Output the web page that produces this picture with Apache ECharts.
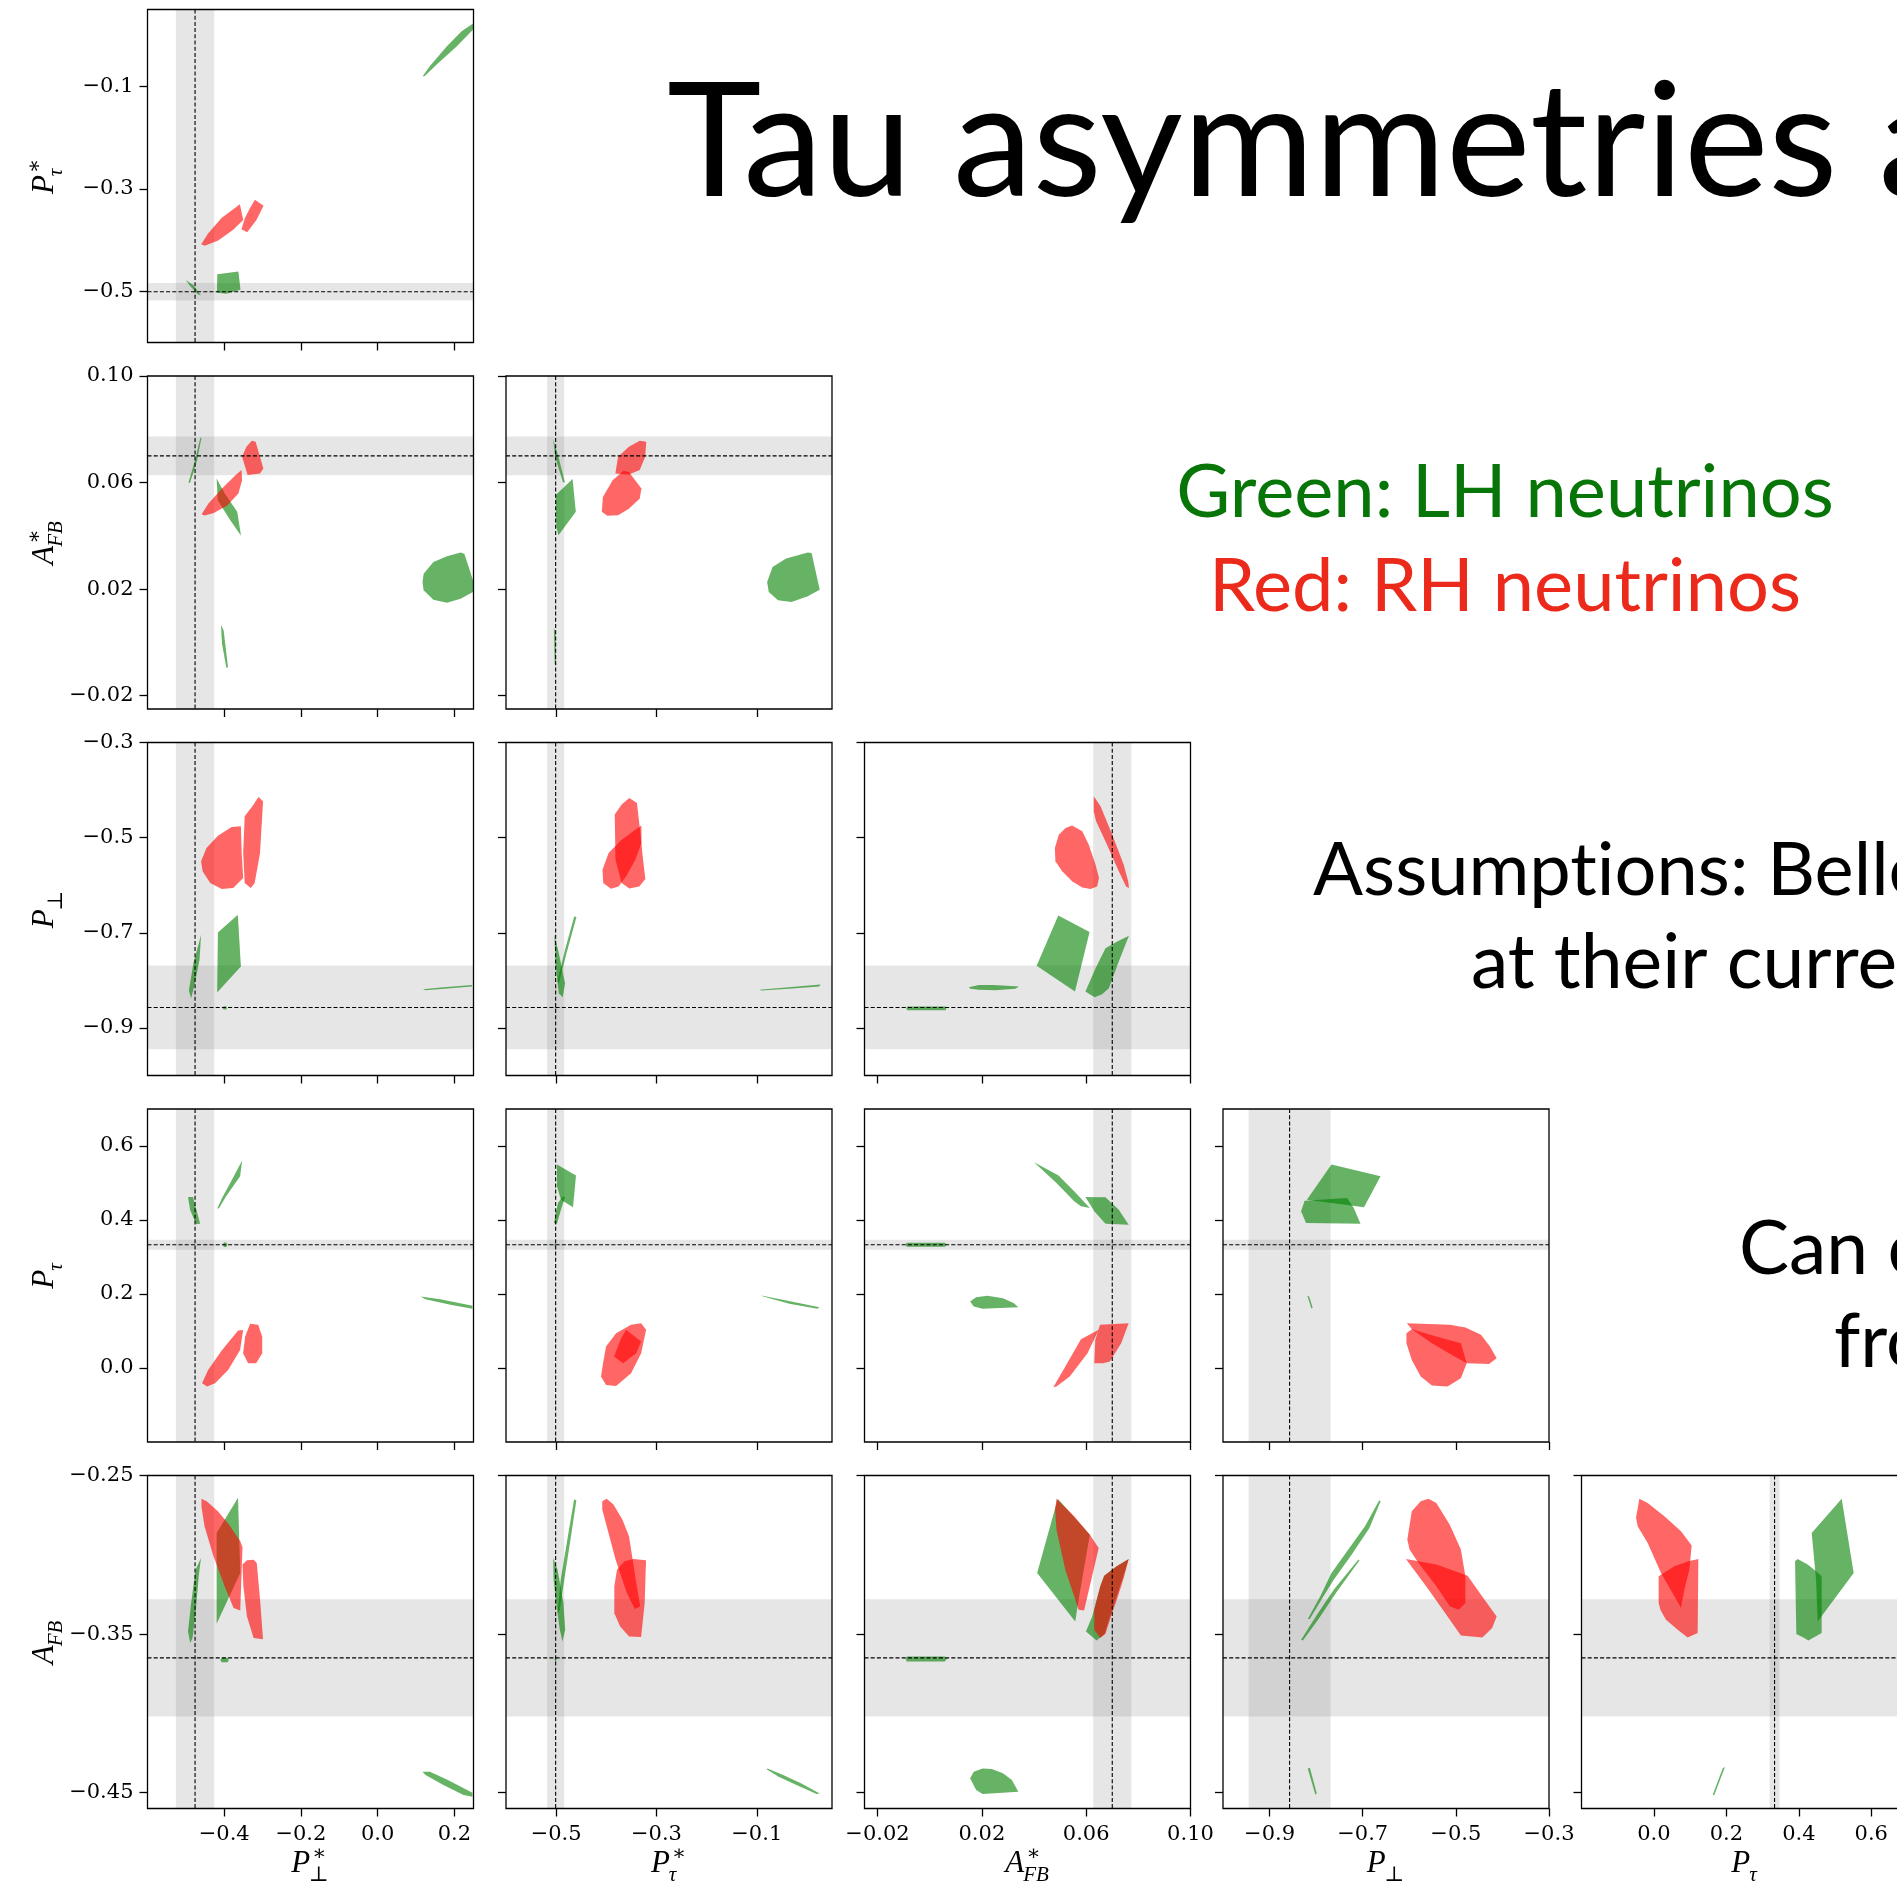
<!DOCTYPE html>
<html>
<head>
<meta charset="utf-8">
<title>Tau asymmetries</title>
<script src="https://cdn.jsdelivr.net/npm/echarts@6/dist/echarts.min.js"></script>
<style>
html,body{margin:0;padding:0;background:#ffffff;}
#chart{width:1897px;height:1884px;}
</style>
</head>
<body>
<div id="chart"></div>
<script>
// ---------------- DATA ----------------
// variables: 0 P*_perp, 1 P*_tau, 2 A*_FB, 3 P_perp, 4 P_tau, 5 A_FB
const VAR_MIN = [-0.6, -0.6, -0.025, -1.0, -0.2, -0.46];
const VAR_MAX = [0.25, 0.05, 0.10, -0.3, 0.7, -0.25];
const VAR_TICKS = [
  [-0.4, -0.2, 0.0, 0.2],
  [-0.5, -0.3, -0.1],
  [-0.02, 0.02, 0.06, 0.10],
  [-0.9, -0.7, -0.5, -0.3],
  [0.0, 0.2, 0.4, 0.6],
  [-0.45, -0.35, -0.25]
];
const VAR_DECIMALS = [1, 1, 2, 1, 1, 2];
const AXIS_TITLES = [['P', '\u2217', '\u22A5'], ['P', '\u2217', '\u03C4'], ['A', '\u2217', 'FB'], ['P', '', '\u22A5'], ['P', '', '\u03C4'], ['A', '', 'FB']];
// measured values (dashed lines) and their uncertainties (grey bands)
const MEAS_CENTER = [-0.476, -0.501, 0.0700, -0.857, 0.333, -0.365];
const MEAS_ERR = [0.050, 0.017, 0.0073, 0.088, 0.0135, 0.037];

const SLIDE_TITLE = 'Tau asymmetries at';
const LEGEND_LH = 'Green: LH neutrinos';
const LEGEND_RH = 'Red: RH neutrinos';
const NOTE_LINES = ['Assumpt\u200Cions: Belle', 'at their current', 'Can c', 'from'];

// allowed regions, [x, y] vertices in data units; LH = green, RH = red
const LH_11 = [
  [[0.117,-0.081],[0.136,-0.061],[0.180,-0.022],[0.219,0.0076],[0.249,0.0226],[0.249,0.0109],[0.206,-0.022],[0.154,-0.0575],[0.123,-0.080]],
  [[-0.418,-0.467],[-0.363,-0.4616],[-0.3575,-0.497],[-0.394,-0.505],[-0.419,-0.503]],
  [[-0.500,-0.478],[-0.481,-0.4876],[-0.461,-0.508],[-0.468,-0.5065],[-0.4896,-0.489]]
];
const RH_11 = [
  [[-0.460,-0.408],[-0.442,-0.387],[-0.407,-0.357],[-0.359,-0.330],[-0.3505,-0.361],[-0.3766,-0.380],[-0.4157,-0.401],[-0.4505,-0.411]],
  [[-0.320,-0.3215],[-0.2975,-0.333],[-0.316,-0.361],[-0.340,-0.385],[-0.355,-0.379],[-0.346,-0.357],[-0.333,-0.338]]
];
const LH_21 = [
  [[-0.4933,0.0599],[-0.476,0.0684],[-0.462,0.0769],[-0.4594,0.0767],[-0.4707,0.0684],[-0.489,0.0599]],
  [[-0.4198,0.0615],[-0.3986,0.0559],[-0.366,0.049],[-0.3562,0.040],[-0.3845,0.0459],[-0.417,0.0534]],
  [[0.120,0.0258],[0.1455,0.0302],[0.1808,0.0323],[0.2162,0.0337],[0.2261,0.0333],[0.2487,0.0233],[0.2487,0.0189],[0.2162,0.0164],[0.1808,0.0149],[0.1455,0.016],[0.120,0.0196],[0.1172,0.0227]],
  [[-0.4085,0.0066],[-0.4015,0.0045],[-0.390,-0.0093],[-0.3944,-0.0095],[-0.4057,-0.0005]]
];
const RH_21 = [
  [[-0.342,0.0734],[-0.328,0.0757],[-0.318,0.0753],[-0.298,0.0653],[-0.3067,0.0634],[-0.339,0.0628],[-0.3534,0.0697]],
  [[-0.459,0.0481],[-0.441,0.0521],[-0.4057,0.0578],[-0.370,0.0628],[-0.3548,0.0647],[-0.3534,0.0609],[-0.363,0.0559],[-0.3915,0.0515],[-0.427,0.0486],[-0.451,0.0476]]
];
const LH_22 = [
  [[-0.506,0.0762],[-0.4954,0.0697],[-0.4824,0.0599],[-0.4867,0.0602],[-0.5019,0.0697]],
  [[-0.5008,0.0553],[-0.4673,0.0613],[-0.4608,0.049],[-0.4954,0.0402],[-0.4997,0.0434]],
  [[-0.0793,0.0227],[-0.0685,0.0283],[-0.0415,0.0315],[0.0017,0.0337],[0.0093,0.0336],[0.0255,0.0198],[0.0017,0.0173],[-0.0307,0.0152],[-0.0577,0.0158],[-0.0761,0.0189]],
  [[-0.5045,0.0051],[-0.5015,0.0045],[-0.500,-0.0083],[-0.503,-0.008]]
];
const RH_22 = [
  [[-0.3819,0.0634],[-0.3765,0.0697],[-0.3549,0.0734],[-0.3333,0.0757],[-0.3203,0.0753],[-0.3225,0.0697],[-0.3333,0.0647],[-0.3549,0.063]],
  [[-0.4089,0.049],[-0.4068,0.0546],[-0.3873,0.0609],[-0.3657,0.0644],[-0.3549,0.064],[-0.330,0.0578],[-0.3333,0.054],[-0.3549,0.0502],[-0.3765,0.0477],[-0.3981,0.0475]]
];
const LH_31 = [
  [[-0.4922,-0.8214],[-0.4803,-0.7639],[-0.4603,-0.7042],[-0.4643,-0.7568],[-0.4783,-0.813],[-0.4863,-0.8375]],
  [[-0.4164,-0.6993],[-0.3645,-0.6621],[-0.3565,-0.7709],[-0.4184,-0.8256]],
  [[-0.4044,-0.8579],[-0.4014,-0.8545],[-0.3954,-0.8545],[-0.3924,-0.8579],[-0.3954,-0.8613],[-0.4014,-0.8613]],
  [[0.1184,-0.8186],[0.1723,-0.8144],[0.2461,-0.8095],[0.2461,-0.813],[0.1823,-0.8172],[0.1244,-0.8207]]
];
const RH_31 = [
  [[-0.4603,-0.5498],[-0.4463,-0.5218],[-0.4164,-0.4958],[-0.3805,-0.4775],[-0.3565,-0.4761],[-0.3545,-0.5323],[-0.3505,-0.5849],[-0.3765,-0.606],[-0.4064,-0.6081],[-0.4364,-0.5954],[-0.4563,-0.5709]],
  [[-0.3466,-0.4551],[-0.3266,-0.434],[-0.3106,-0.4144],[-0.2987,-0.4235],[-0.3066,-0.5323],[-0.3206,-0.5954],[-0.3306,-0.606],[-0.3466,-0.5954],[-0.3505,-0.5323]]
];
const LH_32 = [
  [[-0.5037,-0.7042],[-0.4946,-0.7428],[-0.4823,-0.806],[-0.4869,-0.8354],[-0.4946,-0.827],[-0.5007,-0.7709]],
  [[-0.464,-0.6656],[-0.4595,-0.667],[-0.4793,-0.7428],[-0.4946,-0.806],[-0.4976,-0.8025],[-0.4823,-0.7358]],
  [[-0.503,-0.8579],[-0.5007,-0.8555],[-0.4984,-0.8579],[-0.5007,-0.8603]],
  [[-0.0947,-0.82],[-0.0367,-0.8144],[0.0274,-0.8088],[0.0243,-0.813],[-0.0291,-0.8172],[-0.0902,-0.8214]]
];
const RH_32 = [
  [[-0.3832,-0.4516],[-0.3694,-0.4305],[-0.3542,-0.4165],[-0.3389,-0.427],[-0.3328,-0.4832],[-0.3267,-0.5463],[-0.3221,-0.587],[-0.3343,-0.6025],[-0.3542,-0.6067],[-0.3694,-0.5954],[-0.3817,-0.5463]],
  [[-0.4076,-0.5674],[-0.3954,-0.5323],[-0.3694,-0.5042],[-0.3421,-0.4832],[-0.330,-0.4747],[-0.330,-0.5112],[-0.3421,-0.5463],[-0.3604,-0.5814],[-0.3756,-0.6025],[-0.3909,-0.6074],[-0.4061,-0.5954]]
];
const LH_33 = [
  [[0.0493,-0.6635],[0.0613,-0.6986],[0.0557,-0.8235],[0.041,-0.7695]],
  [[0.0597,-0.8235],[0.0636,-0.7744],[0.0674,-0.7323],[0.0719,-0.7182],[0.0764,-0.7063],[0.0725,-0.7604],[0.0687,-0.8165],[0.0661,-0.8291],[0.0632,-0.8354]],
  [[0.015,-0.8144],[0.0188,-0.8095],[0.0246,-0.8095],[0.0342,-0.813],[0.0329,-0.8179],[0.0252,-0.8207],[0.0188,-0.82],[0.0156,-0.8179]],
  [[-0.0086,-0.8551],[0.0061,-0.8551],[0.0064,-0.8586],[0.0061,-0.8628],[-0.0086,-0.8628],[-0.009,-0.8586]]
];
const RH_33 = [
  [[0.048,-0.5218],[0.0495,-0.4937],[0.0521,-0.4796],[0.0546,-0.4747],[0.0585,-0.4867],[0.061,-0.5147],[0.0636,-0.5568],[0.0649,-0.5849],[0.0642,-0.6025],[0.0617,-0.6081],[0.0585,-0.6046],[0.0546,-0.5919],[0.0508,-0.5709],[0.0482,-0.5498]],
  [[0.0629,-0.413],[0.0655,-0.434],[0.070,-0.4937],[0.0744,-0.5568],[0.0761,-0.5919],[0.0764,-0.606],[0.0753,-0.6025],[0.0725,-0.5709],[0.068,-0.5147],[0.0638,-0.4656],[0.0629,-0.4446]]
];
const LH_41 = [
  [[-0.4943,0.4622],[-0.4812,0.4622],[-0.4629,0.390],[-0.4734,0.3882],[-0.489,0.428]],
  [[-0.4185,0.4306],[-0.4055,0.4595],[-0.3794,0.5092],[-0.3533,0.5606],[-0.3585,0.5182],[-0.395,0.464],[-0.4133,0.4324]],
  [[-0.4036,0.3332],[-0.4006,0.3392],[-0.3946,0.3392],[-0.3916,0.3332],[-0.3946,0.3272],[-0.4006,0.3272]],
  [[0.1115,0.1933],[0.1637,0.1861],[0.2473,0.1681],[0.2473,0.16],[0.1898,0.1708],[0.1245,0.1861]]
];
const RH_41 = [
  [[-0.4577,-0.0413],[-0.442,-0.0052],[-0.4055,0.0489],[-0.3637,0.1012],[-0.3507,0.103],[-0.3585,0.0489],[-0.3898,-0.0052],[-0.4238,-0.0413],[-0.4446,-0.0503]],
  [[-0.3454,0.085],[-0.3324,0.1193],[-0.3115,0.1166],[-0.301,0.085],[-0.301,0.0399],[-0.3167,0.0128],[-0.3376,0.0128],[-0.3507,0.0399]]
];
const LH_42 = [
  [[-0.4984,0.5498],[-0.4604,0.52],[-0.4664,0.4343],[-0.4904,0.455],[-0.4984,0.4911]],
  [[-0.5044,0.3918],[-0.4964,0.4459],[-0.4864,0.464],[-0.4824,0.4622],[-0.4904,0.428],[-0.4984,0.39]],
  [[-0.504,0.333],[-0.502,0.338],[-0.500,0.333],[-0.502,0.328]],
  [[-0.091,0.196],[-0.0311,0.1798],[0.0248,0.1645],[0.0208,0.16],[-0.0351,0.1735],[-0.087,0.1933]]
];
const RH_42 = [
  [[-0.4065,0.0128],[-0.4005,0.058],[-0.3805,0.0941],[-0.3506,0.1166],[-0.3306,0.1211],[-0.3206,0.1031],[-0.3306,0.0399],[-0.3506,-0.0143],[-0.3805,-0.0486],[-0.4005,-0.0459],[-0.4105,-0.0233]],
  [[-0.3845,0.031],[-0.3705,0.0806],[-0.3605,0.1031],[-0.3306,0.0716],[-0.3405,0.0399],[-0.3665,0.0128]]
];
const LH_43 = [
  [[0.040,0.5561],[0.0494,0.52],[0.0554,0.4776],[0.0614,0.4325],[0.058,0.437],[0.0554,0.4505],[0.0486,0.5]],
  [[0.0597,0.4622],[0.0674,0.4613],[0.0725,0.428],[0.0763,0.3873],[0.0674,0.39],[0.0631,0.4234]],
  [[-0.0088,0.3386],[0.0058,0.3386],[0.0066,0.3332],[0.0058,0.3278],[-0.0088,0.3278],[-0.0093,0.3332]],
  [[0.0155,0.1798],[0.0178,0.1915],[0.0221,0.1951],[0.0281,0.1888],[0.0323,0.1753],[0.034,0.1645],[0.0246,0.1618],[0.0203,0.16],[0.0169,0.1663]]
];
const RH_43 = [
  [[0.0474,-0.0521],[0.052,0.0038],[0.058,0.0778],[0.0648,0.1031],[0.0605,0.0399],[0.0537,-0.0233],[0.0486,-0.0503]],
  [[0.0653,0.1166],[0.0763,0.1211],[0.0734,0.067],[0.0691,0.0174],[0.0665,0.0128],[0.0631,0.0128],[0.0635,0.0761]]
];
const LH_44 = [
  [[-0.8199,0.455],[-0.7671,0.5497],[-0.6617,0.5182],[-0.6972,0.4343]],
  [[-0.8247,0.4523],[-0.7336,0.4595],[-0.7192,0.4325],[-0.7048,0.39],[-0.8218,0.3918],[-0.8323,0.4234]],
  [[-0.8189,0.1951],[-0.8151,0.1933],[-0.8074,0.1627],[-0.8103,0.1609]]
];
const RH_44 = [
  [[-0.6061,0.0941],[-0.5946,0.1049],[-0.5419,0.0851],[-0.4892,0.067],[-0.4767,0.0129],[-0.4892,-0.0277],[-0.5179,-0.0503],[-0.5514,-0.0476],[-0.5754,-0.0233],[-0.5946,0.0219],[-0.6061,0.067]],
  [[-0.6052,0.1211],[-0.5131,0.1166],[-0.4795,0.1094],[-0.446,0.0896],[-0.4268,0.058],[-0.4124,0.0264],[-0.4288,0.0111],[-0.4767,0.0129],[-0.5083,0.0354],[-0.5514,0.067],[-0.5946,0.1049]]
];
const LH_51 = [
  [[-0.364,-0.2641],[-0.3582,-0.3115],[-0.4198,-0.3435],[-0.4198,-0.2862]],
  [[-0.4944,-0.3483],[-0.4862,-0.3304],[-0.4746,-0.3094],[-0.4606,-0.302],[-0.4664,-0.3136],[-0.4746,-0.3368],[-0.4827,-0.3525],[-0.4885,-0.3557]],
  [[-0.4099,-0.3664],[-0.4069,-0.365],[-0.3909,-0.365],[-0.3879,-0.3664],[-0.3909,-0.3678],[-0.4069,-0.3678]],
  [[0.1168,-0.4368],[0.1366,-0.4368],[0.1832,-0.442],[0.2472,-0.45],[0.2472,-0.4526],[0.2239,-0.4515],[0.1715,-0.4452],[0.1249,-0.4389]]
];
const RH_51 = [
  [[-0.4594,-0.2647],[-0.4455,-0.2662],[-0.4164,-0.2725],[-0.3873,-0.281],[-0.3582,-0.2915],[-0.3523,-0.2951],[-0.3582,-0.3351],[-0.3756,-0.3336],[-0.3989,-0.3199],[-0.428,-0.301],[-0.4513,-0.282],[-0.4594,-0.2694]],
  [[-0.3523,-0.3062],[-0.3407,-0.3035],[-0.3232,-0.3031],[-0.3151,-0.3052],[-0.3058,-0.3304],[-0.2988,-0.3532],[-0.3232,-0.3525],[-0.3407,-0.3389],[-0.35,-0.3199]]
];
const LH_52 = [
  [[-0.4642,-0.2652],[-0.4597,-0.2656],[-0.4704,-0.2883],[-0.4838,-0.3157],[-0.4927,-0.3346],[-0.4971,-0.3368],[-0.4909,-0.3157],[-0.4766,-0.2883]],
  [[-0.506,-0.302],[-0.4971,-0.3094],[-0.4855,-0.3304],[-0.482,-0.3473],[-0.4873,-0.3547],[-0.4927,-0.3473],[-0.4998,-0.3304],[-0.5051,-0.3157]],
  [[-0.5035,-0.3662],[-0.5013,-0.3650],[-0.4991,-0.3662],[-0.5013,-0.3674]],
  [[-0.0787,-0.4347],[-0.0475,-0.4389],[-0.0119,-0.4441],[0.0255,-0.4505],[0.0193,-0.4509],[-0.0208,-0.4452],[-0.0564,-0.4399],[-0.0805,-0.4353]]
];
const RH_52 = [
  [[-0.4081,-0.2662],[-0.3992,-0.2647],[-0.3858,-0.2683],[-0.368,-0.2778],[-0.3547,-0.2883],[-0.3413,-0.3157],[-0.3324,-0.3325],[-0.3431,-0.3342],[-0.3591,-0.3241],[-0.3814,-0.3031],[-0.3992,-0.282],[-0.4081,-0.2715]],
  [[-0.3787,-0.3094],[-0.3636,-0.3041],[-0.3458,-0.3026],[-0.3208,-0.3035],[-0.3235,-0.3304],[-0.3306,-0.3519],[-0.3546,-0.3515],[-0.3724,-0.3452],[-0.384,-0.3368],[-0.384,-0.3199]]
];
const LH_53 = [
  [[0.0491,-0.2647],[0.0614,-0.2873],[0.0571,-0.3283],[0.0558,-0.342],[0.0412,-0.3115]],
  [[0.0599,-0.3483],[0.0623,-0.3389],[0.0654,-0.3199],[0.0669,-0.3132],[0.0717,-0.3073],[0.0763,-0.3026],[0.0742,-0.3136],[0.0717,-0.3262],[0.0691,-0.3389],[0.0671,-0.3498],[0.0640,-0.354]],
  [[-0.0088,-0.3641],[0.0058,-0.3641],[0.0066,-0.3656],[0.0058,-0.3673],[-0.0088,-0.3673],[-0.0093,-0.3656]],
  [[0.0155,-0.441],[0.0169,-0.4368],[0.0203,-0.4347],[0.0238,-0.4351],[0.0281,-0.4378],[0.0315,-0.442],[0.034,-0.4494],[0.0203,-0.4509],[0.0178,-0.4484]]
];
const RH_53 = [
  [[0.0486,-0.2647],[0.0554,-0.2757],[0.0614,-0.2873],[0.0648,-0.2957],[0.0592,-0.3351],[0.0571,-0.3346],[0.052,-0.3094],[0.0486,-0.2841],[0.0481,-0.2715]],
  [[0.0631,-0.3346],[0.0654,-0.3199],[0.0669,-0.3132],[0.0717,-0.3073],[0.0763,-0.3026],[0.0746,-0.3136],[0.0722,-0.3262],[0.0695,-0.3389],[0.0674,-0.3498],[0.0654,-0.3525],[0.0631,-0.3473]]
];
const LH_54 = [
  [[-0.818,-0.3405],[-0.7911,-0.3262],[-0.7671,-0.3115],[-0.7336,-0.2978],[-0.6952,-0.282],[-0.6645,-0.2656],[-0.6616,-0.2662],[-0.6856,-0.2831],[-0.7239,-0.2999],[-0.7623,-0.3157],[-0.7911,-0.3294],[-0.8136,-0.3405]],
  [[-0.8323,-0.3536],[-0.8007,-0.3389],[-0.7623,-0.322],[-0.7096,-0.3031],[-0.7067,-0.3035],[-0.7575,-0.3241],[-0.7959,-0.341],[-0.8285,-0.354]],
  [[-0.818,-0.4347],[-0.8136,-0.4343],[-0.7986,-0.4505],[-0.8018,-0.4511]]
];
const RH_54 = [
  [[-0.6042,-0.2904],[-0.5946,-0.2725],[-0.5754,-0.2662],[-0.5591,-0.2647],[-0.5419,-0.2673],[-0.5131,-0.281],[-0.4892,-0.2967],[-0.4796,-0.3136],[-0.4796,-0.3304],[-0.4939,-0.3346],[-0.5131,-0.3325],[-0.5419,-0.3199],[-0.5802,-0.3052],[-0.5994,-0.2967]],
  [[-0.6071,-0.3026],[-0.5419,-0.3062],[-0.4748,-0.3132],[-0.446,-0.3252],[-0.4124,-0.3389],[-0.422,-0.3462],[-0.4431,-0.3521],[-0.4892,-0.3509],[-0.5227,-0.3368],[-0.5611,-0.321]]
];
const LH_55 = [
  [[0.4355,-0.2862],[0.5183,-0.2647],[0.5514,-0.3115],[0.4521,-0.342],[0.4475,-0.3157]],
  [[0.3895,-0.3041],[0.3968,-0.3026],[0.4244,-0.3062],[0.4475,-0.3104],[0.4631,-0.3136],[0.4631,-0.3494],[0.4263,-0.354],[0.4152,-0.3525],[0.3931,-0.35]],
  [[0.1621,-0.4515],[0.1897,-0.4347],[0.1962,-0.4336],[0.1667,-0.4515]]
];
const RH_55 = [
  [[-0.0403,-0.2647],[-0.0173,-0.2673],[0.0287,-0.2757],[0.0747,-0.2852],[0.1042,-0.2942],[0.0977,-0.3094],[0.0839,-0.322],[0.0747,-0.3336],[0.0563,-0.3262],[0.0195,-0.3115],[-0.0173,-0.2925],[-0.0449,-0.282],[-0.0495,-0.2767]],
  [[0.013,-0.3136],[0.0563,-0.3073],[0.095,-0.3041],[0.1226,-0.3026],[0.1207,-0.3494],[0.0931,-0.3521],[0.0655,-0.3473],[0.0333,-0.341],[0.0177,-0.3347],[0.013,-0.3304]]
];

// ---------------- LAYOUT / STYLE ----------------
const REGIONS = {
  '11': [LH_11, RH_11],
  '21': [LH_21, RH_21], '22': [LH_22, RH_22],
  '31': [LH_31, RH_31], '32': [LH_32, RH_32], '33': [LH_33, RH_33],
  '41': [LH_41, RH_41], '42': [LH_42, RH_42], '43': [LH_43, RH_43], '44': [LH_44, RH_44],
  '51': [LH_51, RH_51], '52': [LH_52, RH_52], '53': [LH_53, RH_53], '54': [LH_54, RH_54], '55': [LH_55, RH_55]
};
const GL = 147.5, GP = 358.5, GT = 9.5, GRP = 366.5, GW = 326, GH = 333;
const LH_FILL = 'rgba(0,128,0,0.6)';
const RH_FILL = 'rgba(255,0,0,0.6)';
const BAND_FILL = 'rgba(128,128,128,0.2)';
const SERIF = '"Liberation Serif","DejaVu Serif",serif';
const TICK_FONT = '"DejaVu Serif","Liberation Serif",serif';
const SANS = 'Lato, "Open Sans", sans-serif';

function fmt(v, d) {
  const s = Math.abs(v).toFixed(d);
  return (v < -1e-9 ? '\u2212' : '') + s;
}

function makeAxis(v, dim, showLabel, gi) {
  return {
    type: 'value', gridIndex: gi, min: VAR_MIN[v], max: VAR_MAX[v],
    position: dim === 'x' ? 'bottom' : 'left',
    axisLine: { show: false, onZero: false },
    axisTick: { show: true, inside: false, length: 8, customValues: VAR_TICKS[v], lineStyle: { color: '#000', width: 1.3 } },
    axisLabel: {
      show: showLabel, customValues: VAR_TICKS[v],
      formatter: function (val) { return fmt(val, VAR_DECIMALS[v]); },
      fontFamily: TICK_FONT, fontSize: 21, color: '#000', margin: dim === 'x' ? 16 : 14
    },
    splitLine: { show: false }, splitArea: { show: false }
  };
}

const grids = [], xAxes = [], yAxes = [], series = [];
let gi = 0;
for (let r = 0; r < 5; r++) {
  for (let c = 0; c <= r; c++) {
    const xv = c, yv = r + 1;
    const key = '' + (r + 1) + (c + 1);
    const mid = [(VAR_MIN[xv] + VAR_MAX[xv]) / 2, (VAR_MIN[yv] + VAR_MAX[yv]) / 2];
    grids.push({ left: GL + c * GP, top: GT + r * GRP, width: GW, height: GH, show: false, containLabel: false, outerBoundsMode: 'none' });
    xAxes.push(makeAxis(xv, 'x', r === 4, gi));
    yAxes.push(makeAxis(yv, 'y', c === 0, gi));
    // grey measurement bands
    series.push({
      type: 'custom', xAxisIndex: gi, yAxisIndex: gi, z: 1, silent: true, clip: true, data: [mid],
      renderItem: function (params, api) {
        const cs = params.coordSys;
        const xa = api.coord([MEAS_CENTER[xv] - MEAS_ERR[xv], mid[1]])[0];
        const xb = api.coord([MEAS_CENTER[xv] + MEAS_ERR[xv], mid[1]])[0];
        const ya = api.coord([mid[0], MEAS_CENTER[yv] + MEAS_ERR[yv]])[1];
        const yb = api.coord([mid[0], MEAS_CENTER[yv] - MEAS_ERR[yv]])[1];
        return { type: 'group', children: [
          { type: 'rect', shape: { x: xa, y: cs.y, width: xb - xa, height: cs.height }, style: { fill: BAND_FILL } },
          { type: 'rect', shape: { x: cs.x, y: ya, width: cs.width, height: yb - ya }, style: { fill: BAND_FILL } }
        ] };
      }
    });
    // regions
    [[REGIONS[key][0], LH_FILL, 2], [REGIONS[key][1], RH_FILL, 3]].forEach(function (item) {
      const polys = item[0], fill = item[1];
      series.push({
        type: 'custom', xAxisIndex: gi, yAxisIndex: gi, z: item[2], silent: true, clip: true,
        data: polys.map(function (p) { return p[0]; }),
        renderItem: function (params, api) {
          const poly = polys[params.dataIndex];
          return { type: 'polygon', shape: { points: poly.map(function (pt) { return api.coord(pt); }) }, style: { fill: fill, stroke: 'none' } };
        }
      });
    });
    // dashed measured lines + frame
    series.push({
      type: 'custom', xAxisIndex: gi, yAxisIndex: gi, z: 5, silent: true, clip: false, data: [mid],
      renderItem: function (params, api) {
        const cs = params.coordSys;
        const lx = api.coord([MEAS_CENTER[xv], mid[1]])[0];
        const ly = api.coord([mid[0], MEAS_CENTER[yv]])[1];
        const dash = { stroke: '#000', lineWidth: 1.1, lineDash: [4, 2.2], fill: 'none' };
        return { type: 'group', children: [
          { type: 'line', shape: { x1: lx, y1: cs.y, x2: lx, y2: cs.y + cs.height }, style: dash },
          { type: 'line', shape: { x1: cs.x, y1: ly, x2: cs.x + cs.width, y2: ly }, style: dash },
          { type: 'rect', shape: { x: cs.x, y: cs.y, width: cs.width, height: cs.height }, style: { fill: 'none', stroke: '#000', lineWidth: 1.3 } }
        ] };
      }
    });
    gi++;
  }
}

// ---------------- TEXT GRAPHICS ----------------
const _ctx = document.createElement('canvas').getContext('2d');
function textWidth(t, font) { _ctx.font = font; return _ctx.measureText(t).width; }

function mathLabel(def, gx, gy, vertical) {
  const base = def[0], sup = def[1], sub = def[2];
  const BS = 31, SS = 21;
  const fBase = 'italic ' + BS + 'px ' + SERIF;
  const fSup = SS + 'px ' + SERIF;
  const fSub = (sub === '\u22A5' ? '' : 'italic ') + SS + 'px ' + SERIF;
  const wb = textWidth(base, fBase);
  const wsup = sup ? textWidth(sup, fSup) : 0;
  const wsub = sub ? textWidth(sub, fSub) : 0;
  const total = wb + Math.max(wsup + 3, wsub);
  const x0 = -total / 2;
  const MID = 0.3375;
  const children = [
    { type: 'text', x: x0, y: -MID * BS, style: { text: base, font: fBase, fill: '#000', align: 'left', verticalAlign: 'middle' } }
  ];
  if (sup) children.push({ type: 'text', x: x0 + wb + 2, y: -0.62 * BS, style: { text: sup, font: fSup, fill: '#000', align: 'left', verticalAlign: 'middle' } });
  if (sub) children.push({ type: 'text', x: x0 + wb - 1, y: 0.27 * BS - MID * SS, style: { text: sub, font: fSub, fill: '#000', align: 'left', verticalAlign: 'middle' } });
  return { type: 'group', x: gx, y: gy, rotation: vertical ? Math.PI / 2 : 0, silent: true, children: children };
}

const graphics = [];
for (let c = 0; c < 5; c++) graphics.push(mathLabel(AXIS_TITLES[c], GL + c * GP + GW / 2, 1874, false));
for (let r = 0; r < 5; r++) graphics.push(mathLabel(AXIS_TITLES[r + 1], 55, GT + r * GRP + GH / 2, true));

function slideText(t, x, y, size, color, align) {
  return { type: 'text', x: x, y: y, silent: true, style: { text: t, font: size + 'px ' + SANS, fill: color, align: align, verticalAlign: 'middle' } };
}
graphics.push(slideText(SLIDE_TITLE, 667, 144, 160, '#000', 'left'));
graphics.push(slideText(LEGEND_LH, 1505, 493, 74, '#077507', 'center'));
graphics.push(slideText(LEGEND_RH, 1505, 587, 74, '#ec2a1c', 'center'));
graphics.push(slideText(NOTE_LINES[0], 1313, 871, 74, '#000', 'left'));
graphics.push(slideText(NOTE_LINES[1], 1471, 964, 75, '#000', 'left'));
graphics.push(slideText(NOTE_LINES[2], 1739, 1250, 75, '#000', 'left'));
graphics.push(slideText(NOTE_LINES[3], 1834, 1343, 75, '#000', 'left'));

const chart = echarts.init(document.getElementById('chart'), null, { renderer: 'canvas', width: 1897, height: 1884 });
chart.setOption({
  backgroundColor: '#ffffff',
  animation: false,
  textStyle: { fontFamily: SERIF },
  grid: grids,
  xAxis: xAxes,
  yAxis: yAxes,
  series: series,
  graphic: { elements: graphics }
});
</script>
</body>
</html>
